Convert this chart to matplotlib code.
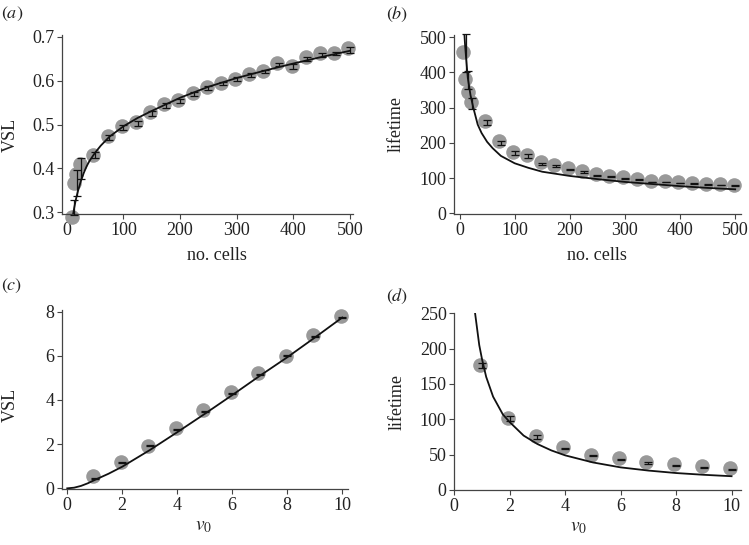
import matplotlib.pyplot as plt
import numpy as np

plt.rcParams['font.family'] = ['Liberation Serif', 'DejaVu Serif']
plt.rcParams['mathtext.fontset'] = 'stix'

#DADOS - painel (a): VSL vs no. cells
a_circ_x = [10, 13, 17, 23, 47, 72, 97, 122, 147, 172, 197, 222, 247, 272, 297,
            322, 347, 372, 397, 422, 447, 472, 497]
a_circ_y = [0.290, 0.367, 0.387, 0.411, 0.431, 0.473, 0.496, 0.506, 0.529, 0.546,
            0.556, 0.572, 0.585, 0.594, 0.604, 0.615, 0.623, 0.641, 0.634, 0.653,
            0.662, 0.664, 0.675]
a_err_x = [13, 18, 25, 50, 75, 100, 125, 150, 175, 200, 225, 250, 275, 300, 325,
           350, 375, 400, 425, 450, 475, 500]
a_err_y = [0.311, 0.367, 0.400, 0.430, 0.470, 0.493, 0.503, 0.525, 0.543, 0.553,
           0.570, 0.583, 0.593, 0.604, 0.613, 0.621, 0.637, 0.632, 0.650, 0.659,
           0.662, 0.670]
a_err_e = [0.016, 0.029, 0.023, 0.007, 0.006, 0.006, 0.006, 0.005, 0.005, 0.005,
           0.005, 0.005, 0.004, 0.005, 0.004, 0.004, 0.004, 0.005, 0.005, 0.005,
           0.004, 0.006]
a_fit_x = [11, 13, 15, 17, 20, 25, 30, 35, 40, 50, 60, 75, 100, 125, 150, 200, 250,
           300, 350, 400, 450, 500]
a_fit_y = [0.295, 0.310, 0.323, 0.335, 0.350, 0.372, 0.390, 0.405, 0.417, 0.436,
           0.452, 0.472, 0.496, 0.515, 0.531, 0.561, 0.586, 0.606, 0.623, 0.639,
           0.654, 0.668]

#painel (b): lifetime vs no. cells
b_circ_x = [6, 10, 15, 20, 47, 72, 97, 122, 147, 172, 197, 222, 247, 272, 297,
            322, 347, 372, 397, 422, 447, 472, 497]
b_circ_y = [459, 381, 344, 315, 261, 204, 173, 165, 146, 136, 128, 120, 112, 107,
            102, 97, 92, 91, 89, 87, 84, 83, 80]
b_err_x = [11, 16, 22, 50, 75, 100, 125, 150, 175, 200, 225, 250, 275, 300, 325,
           350, 375, 400, 425, 450, 475, 500]
b_err_y = [455, 378, 312, 257, 199, 172, 163, 141, 133, 124, 117, 108, 104, 99,
           95, 89, 89, 86, 85, 81, 80, 78]
b_err_e = [55, 25, 15, 7, 6, 6, 5, 3, 3, 2, 2, 1, 1, 1, 1, 1, 1, 1, 1, 1, 1, 1]
b_fit_x = [9, 10, 12, 15, 20, 25, 33, 40, 50, 60, 75, 100, 125, 150, 200, 250,
           300, 350, 400, 450, 500]
b_fit_y = [506, 480, 440, 385, 335, 300, 252, 228, 203, 185, 163, 142, 129, 118,
           106, 97, 89, 83, 77, 72, 68]

#painel (c): VSL vs v0
c_circ_x = [0.95, 1.95, 2.95, 3.95, 4.95, 5.95, 6.95, 7.95, 8.95, 9.95]
c_circ_y = [0.56, 1.18, 1.93, 2.72, 3.55, 4.35, 5.21, 6.00, 6.92, 7.78]
c_err_x = [1, 2, 3, 4, 5, 6, 7, 8, 9, 10]
c_err_y = [0.45, 1.15, 1.92, 2.65, 3.48, 4.28, 5.17, 6.00, 6.88, 7.74]
c_err_e = [0.02, 0.02, 0.02, 0.02, 0.02, 0.02, 0.02, 0.02, 0.02, 0.02]
c_fit_x = [0, 0.25, 0.5, 0.75, 1, 1.5, 2, 3, 4, 5, 6, 7, 8, 9, 10]
c_fit_y = [0, 0.03, 0.11, 0.23, 0.38, 0.66, 0.98, 1.73, 2.54, 3.37, 4.22, 5.09,
           5.93, 6.82, 7.73]

#painel (d): lifetime vs v0
d_circ_x = [0.93, 1.93, 2.93, 3.93, 4.93, 5.93, 6.93, 7.93, 8.93, 9.93]
d_circ_y = [177, 102.5, 76, 60.5, 50, 45, 39, 37, 34, 31.6]
d_err_x = [1, 2, 3, 4, 5, 6, 7, 8, 9, 10]
d_err_y = [176, 101, 75, 59, 49, 43, 38, 35, 32, 29]
d_err_e = [4, 3, 3, 1, 1, 1, 1, 1, 1, 1]
d_fit_x = [0.75, 0.9, 1.0, 1.15, 1.4, 1.75, 2.0, 2.5, 3.0, 3.5, 4.0, 5.0, 6.0,
           7.0, 8.0, 9.0, 10.0]
d_fit_y = [250, 205, 185, 160, 132, 107, 96, 77, 65, 56, 49, 39, 32, 27.5, 24,
           21.5, 19.5]

W, H = 749, 545
TXT = '#222222'
SPN = '#444444'
FS = 13


def box(l, t, r, b):
    return [l / W, 1 - b / H, (r - l) / W, (b - t) / H]


def panel(ax, cx, cy, ex, ey, ee, fx, fy):
    ax.plot(cx, cy, 'o', color='#999999', ms=10.5, mec='none', clip_on=False, zorder=2)
    ax.errorbar(ex, ey, yerr=ee, fmt='none', ecolor='#111111', elinewidth=0.9,
                capsize=3, capthick=0.9, zorder=3, clip_on=False)
    ax.plot(fx, fy, color='#111111', lw=1.3, zorder=4)
    for s in ['top', 'right']:
        ax.spines[s].set_visible(False)
    for s in ['left', 'bottom']:
        ax.spines[s].set_color(SPN)
        ax.spines[s].set_linewidth(0.9)
    ax.tick_params(direction='out', length=3.5, width=0.8, color=SPN,
                   labelsize=FS, labelcolor=TXT, pad=2)


def labels(ax, xl, yl, xpos, ypos, xfs=FS):
    ax.set_xlabel(xl, fontsize=xfs, color=TXT, va='center')
    ax.set_ylabel(yl, fontsize=FS, color=TXT, va='center')
    ax.xaxis.set_label_coords(*xpos)
    ax.yaxis.set_label_coords(*ypos)


fig = plt.figure(figsize=(W / 100, H / 100), dpi=100)

ax_a = fig.add_axes(box(62.3, 35, 353.3, 214.3))
panel(ax_a, a_circ_x, a_circ_y, a_err_x, a_err_y, a_err_e, a_fit_x, a_fit_y)
ax_a.set_xlim(-8, 506)
ax_a.set_ylim(0.2955, 0.704)
ax_a.set_xticks([0, 100, 200, 300, 400, 500])
ax_a.set_yticks([0.3, 0.4, 0.5, 0.6, 0.7])
labels(ax_a, 'no. cells', 'VSL', (0.53, -0.227), (-0.18, 0.442))

ax_b = fig.add_axes(box(454, 35, 740.7, 214.3))
panel(ax_b, b_circ_x, b_circ_y, b_err_x, b_err_y, b_err_e, b_fit_x, b_fit_y)
ax_b.set_xlim(-10, 510)
ax_b.set_ylim(-3, 506.5)
ax_b.set_xticks([0, 100, 200, 300, 400, 500])
ax_b.set_yticks([0, 100, 200, 300, 400, 500])
labels(ax_b, 'no. cells', 'lifetime', (0.498, -0.227), (-0.203, 0.504))

ax_c = fig.add_axes(box(62.3, 310, 348.3, 489))
panel(ax_c, c_circ_x, c_circ_y, c_err_x, c_err_y, c_err_e, c_fit_x, c_fit_y)
ax_c.set_xlim(-0.18, 10.22)
ax_c.set_ylim(-0.03, 8.07)
ax_c.set_xticks([0, 2, 4, 6, 8, 10])
ax_c.set_yticks([0, 2, 4, 6, 8])
labels(ax_c, r'$v_0$', 'VSL', (0.495, -0.21), (-0.183, 0.469), FS + 1)

ax_d = fig.add_axes(box(454.3, 313.3, 740.7, 490))
panel(ax_d, d_circ_x, d_circ_y, d_err_x, d_err_y, d_err_e, d_fit_x, d_fit_y)
ax_d.set_xlim(0, 10.33)
ax_d.set_ylim(0, 250)
ax_d.set_xticks([0, 2, 4, 6, 8, 10])
ax_d.set_yticks([0, 50, 100, 150, 200, 250])
labels(ax_d, r'$v_0$', 'lifetime', (0.435, -0.21), (-0.201, 0.5), FS + 1)

#rótulos dos painéis
fig.text(1 / W, 1 - 14 / H, r'$(a)$', fontsize=FS, color=TXT, va='center')
fig.text(386 / W, 1 - 14 / H, r'$(b)$', fontsize=FS, color=TXT, va='center')
fig.text(1 / W, 1 - 286 / H, r'$(c)$', fontsize=FS, color=TXT, va='center')
fig.text(386 / W, 1 - 296 / H, r'$(d)$', fontsize=FS, color=TXT, va='center')

fig.savefig('out.png', dpi=100)
